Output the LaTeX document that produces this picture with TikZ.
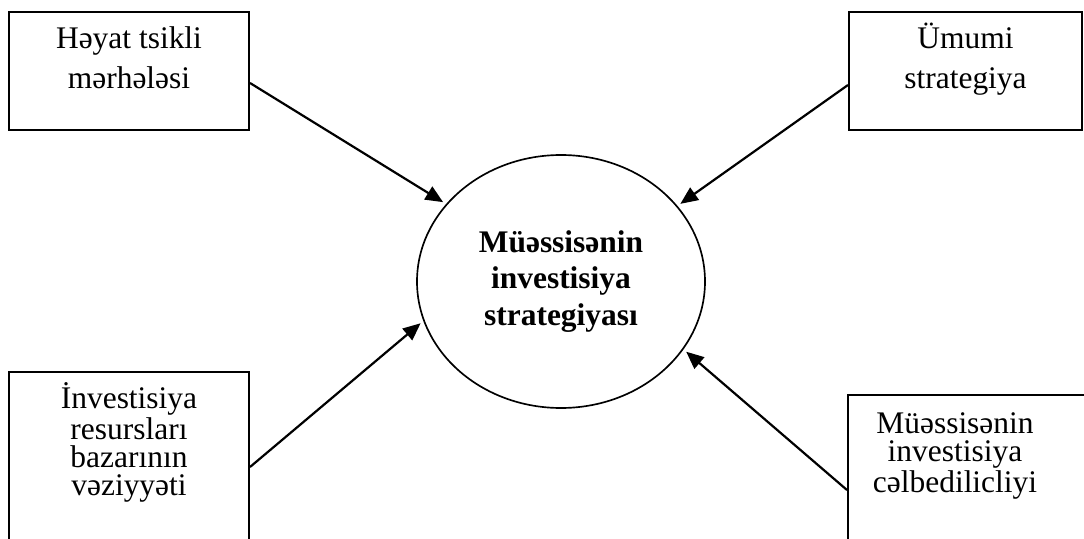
\documentclass[tikz,border=0pt]{standalone}
\usepackage{fontspec}
\setmainfont{Liberation Serif}
\usepackage{tikz}
\usetikzlibrary{shapes,arrows.meta}

\begin{document}
\begin{tikzpicture}[
	box/.style={draw, line width=1.15pt, inner sep=0pt},
	txt/.style={inner sep=0pt, anchor=base},
	arr/.style={-{Triangle[length=0.35cm,width=0.3cm]}, line width=1.25pt, shorten >=2pt}
	]
	
	\useasboundingbox (0,0) rectangle (21.68,10.76);
	\clip (0,0) rectangle (21.68,10.76);
	
	\node[draw, ellipse, line width=0.95pt, minimum width=5.76cm, minimum height=5.06cm, align=center, font=\fontsize{17.9pt}{21pt}\selectfont\bfseries] (el) at (11.22,5.13) {Müəssisənin\\investisiya\\strategiyası};
	
	\node[box, minimum width=4.8cm, minimum height=2.36cm] (hayat) at (2.58,9.34) {};
	\node[box, minimum width=4.66cm, minimum height=2.36cm] (umumi) at (19.31,9.34) {};
	\node[box, minimum width=4.8cm, minimum height=3.46cm] (resurs) at (2.58,1.59) {};
	\node[box, minimum width=4.92cm, minimum height=3.0cm] (celb) at (19.42,1.36) {};
	
	\node[txt] (hayat-t) at ([yshift=-0.76cm]hayat.north) {\parbox[t]{4.6cm}{\centering\fontsize{17.9pt}{22.5pt}\selectfont Həyat tsikli\\mərhələsi}};
	\node[txt] (umumi-t) at ([yshift=-0.76cm]umumi.north) {\parbox[t]{4.6cm}{\centering\fontsize{17.9pt}{22.5pt}\selectfont Ümumi\\strategiya}};
	\node[txt] (resurs-t) at ([yshift=-0.76cm]resurs.north) {\parbox[t]{4.6cm}{\centering\fontsize{17.9pt}{15.9pt}\selectfont İnvestisiya\\resursları\\bazarının\\vəziyyəti}};
	\node[txt] (celb-t) at ([xshift=-0.32cm,yshift=-0.8cm]celb.north) {\parbox[t]{4.6cm}{\centering\fontsize{17.9pt}{15.9pt}\selectfont Müəssisənin\\investisiya\\cəlbedilicliyi}};
	
	\draw[arr] ([yshift=-0.24cm]hayat.east) -- (el.146);
	\draw[arr] ([yshift=-0.28cm]umumi.west) -- (el.33);
	\draw[arr] ([yshift=-0.17cm]resurs.east) -- (el.196);
	\draw[arr] ([yshift=-0.4cm]celb.west) -- (el.331);
	
\end{tikzpicture}
\end{document}
